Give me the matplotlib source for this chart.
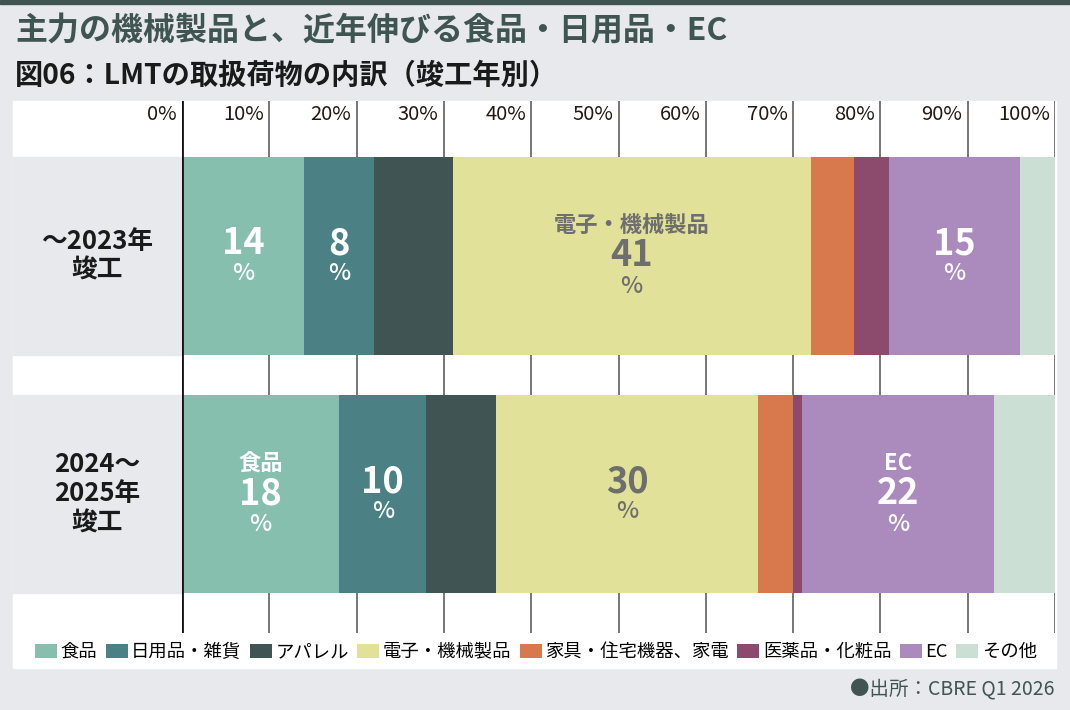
import numpy as np
import matplotlib.pyplot as plt
from matplotlib.patches import Rectangle, Patch
from matplotlib.transforms import blended_transform_factory

plt.rcParams['font.family'] = ['Noto Sans CJK JP', 'DejaVu Sans']

# data
categories = ['食品', '日用品・雑貨', 'アパレル', '電子・機械製品',
              '家具・住宅機器、家電', '医薬品・化粧品', 'EC', 'その他']
colors = ['#86bfad', '#4b8184', '#405453', '#e1e19a',
          '#d8784d', '#8c4b6d', '#ab8bbd', '#cbdfd4']
row_labels = ['～2023年\n竣工', '2024～\n2025年\n竣工']
share_2023 = [14, 8, 9, 41, 5, 4, 15, 4]
share_2025 = [18, 10, 8, 30, 4, 1, 22, 7]
shares = [share_2023, share_2025]
tick_values = list(range(0, 101, 10))
# which segments carry a value label, and which also show the category name
labeled = [0, 1, 3, 6]
named = [[3], [0, 6]]

W, H = 1070, 710
fig = plt.figure(figsize=(10.7, 7.1), dpi=100)
fig.patch.set_facecolor('#e8e9ec')


def fx(px):
    return px / W


def fy(py):
    return 1 - py / H


fig.patches.append(Rectangle((0, fy(4)), 1, 4 / H, transform=fig.transFigure,
                             color='#3f5552', zorder=0))
fig.patches.append(Rectangle((fx(13), fy(668)), fx(1056) - fx(13), (668 - 101) / H,
                             transform=fig.transFigure, color='white', zorder=0))

fig.text(fx(15), fy(31), '主力の機械製品と、近年伸びる食品・日用品・EC',
         fontsize=23, weight='bold', color='#3f5552', va='center')
fig.text(fx(15), fy(76), '図06：LMTの取扱荷物の内訳（竣工年別）',
         fontsize=20.3, weight='bold', color='#1a1a1a', va='center')
fig.text(fx(1055), fy(690), '●出所：CBRE Q1 2026', fontsize=14,
         color='#3f5552', ha='right', va='center')

ax = fig.add_axes([fx(182), fy(633), (1055 - 182) / W, (633 - 101) / H])
ax.set_zorder(3)
ax.set_facecolor('none')
ax.set_xlim(0, 100)
ax.set_ylim(1.584, -0.651)
for s in ax.spines.values():
    s.set_visible(False)
ax.set_xticks([])
ax.set_yticks([])

bar_h = 0.832
for t in tick_values:
    if t == 0:
        ax.axvline(t, color='#111111', lw=2, zorder=5)
    else:
        ax.axvline(t, color='#7a7575', lw=1.4, zorder=1)
    ax.text(t - 0.6, 0.974, f'{t}%', transform=ax.get_xaxis_transform(),
            ha='right', va='center', fontsize=14.5, color='#231815')

lab_trans = blended_transform_factory(fig.transFigure, ax.transData)
for i, vals in enumerate(shares):
    lefts = np.concatenate([[0], np.cumsum(vals)[:-1]])
    ax.barh([i] * len(vals), vals, left=lefts, height=bar_h, color=colors, zorder=2)
    ax.add_patch(Rectangle((fx(13), i - bar_h / 2), fx(182) - fx(13), bar_h,
                           transform=lab_trans, color='#e8e9ec', clip_on=False, zorder=2))
    ax.text(fx(97), i, row_labels[i], transform=lab_trans, ha='center', va='center',
            fontsize=18.5, weight='bold', color='#1a1a1a', linespacing=1.1)
    for j in labeled:
        cx = lefts[j] + vals[j] / 2
        tc = '#6e6e6e' if j == 3 else 'white'
        if j in named[i]:
            offs = (-30, 0, 31)
            ax.annotate(categories[j], (cx, i), xytext=(0, -offs[0]),
                        textcoords='offset pixels', ha='center', va='center',
                        fontsize=16, weight='bold', color=tc, zorder=6)
        else:
            offs = (None, -12, 18)
        ax.annotate(str(vals[j]), (cx, i), xytext=(0, -offs[1]),
                    textcoords='offset pixels', ha='center', va='center',
                    fontsize=26, weight='bold', color=tc, zorder=6)
        ax.annotate('%', (cx, i), xytext=(0, -offs[2]),
                    textcoords='offset pixels', ha='center', va='center',
                    fontsize=17, weight='medium', color=tc, zorder=6)

handles = [Patch(facecolor=c, edgecolor='none') for c in colors]
fig.legend(handles, categories, loc='center', bbox_to_anchor=(fx(536), fy(652)),
           ncol=8, frameon=False, fontsize=13.2, handlelength=1.2, handleheight=0.8,
           handletextpad=0.2, columnspacing=0.45, borderaxespad=0)

fig.savefig('out.png', dpi=100)
